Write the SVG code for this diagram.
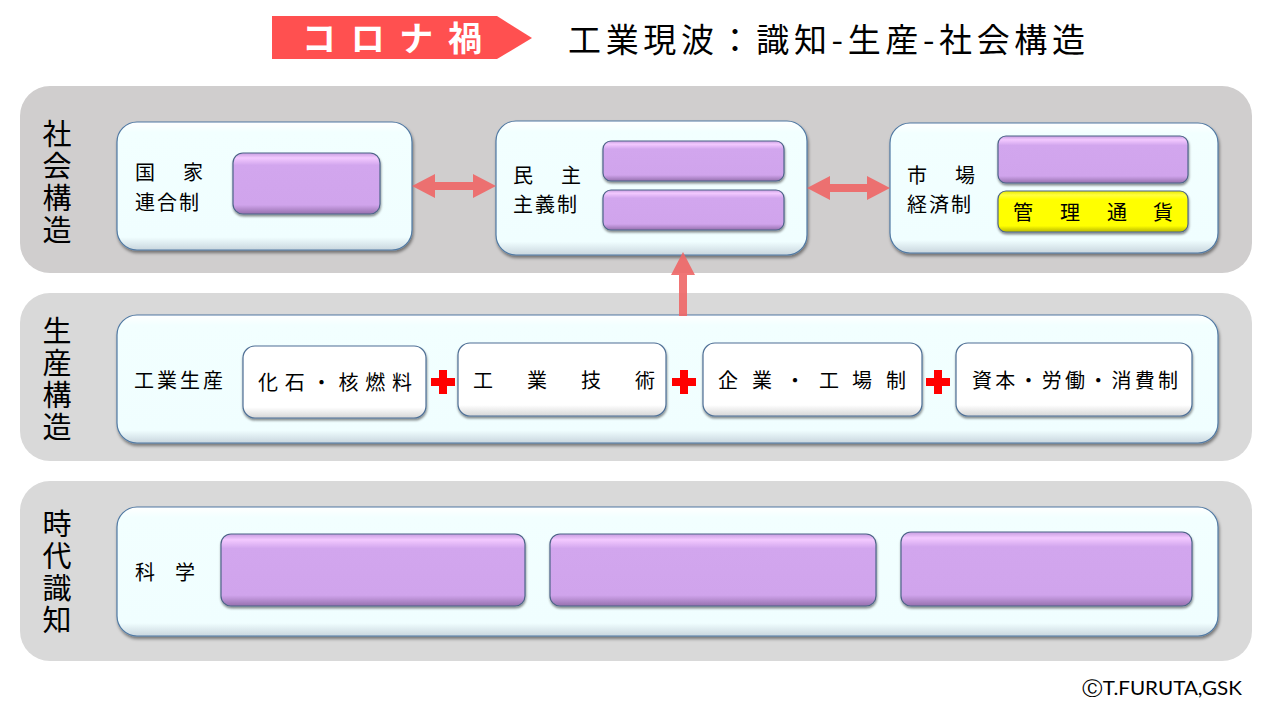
<svg xmlns="http://www.w3.org/2000/svg" width="1280" height="720" viewBox="0 0 1280 720">
<defs>
<style>
.jp{font-family:"Noto Sans CJK JP","Noto Sans CJK SC",sans-serif;fill:#000;}
.lbl{font-size:20px;}
.vlbl{font-size:29px;writing-mode:vertical-rl;letter-spacing:3px;}
.band1{fill:#d0cece;}
.band2{fill:#d9d9d9;}
.box{fill:url(#gCyan);stroke:#5079a3;stroke-width:1.2;filter:url(#sh);}
.pur{fill:url(#gPur);stroke:#4d6488;stroke-width:1.2;filter:url(#sh2);}
.yel{fill:url(#gYel);stroke:#4d6488;stroke-width:1.2;filter:url(#sh2);}
.wbox{fill:url(#gWhite);stroke:#4e6f95;stroke-width:1.2;filter:url(#sh2);}
.arr{fill:#ee6666;opacity:0.9;}
.plus{fill:#ff0000;}
</style>
<filter id="sh" x="-5%" y="-10%" width="110%" height="125%">
<feDropShadow dx="1" dy="2.5" stdDeviation="1.5" flood-color="#000" flood-opacity="0.45"/>
</filter>
<filter id="sh2" x="-5%" y="-10%" width="110%" height="130%">
<feDropShadow dx="0.5" dy="2" stdDeviation="1.2" flood-color="#000" flood-opacity="0.45"/>
</filter>
<linearGradient id="gCyan" x1="0" y1="0" x2="0" y2="1">
<stop offset="0" stop-color="#ffffff"/>
<stop offset="0.08" stop-color="#f2ffff"/>
<stop offset="0.9" stop-color="#f0feff"/>
<stop offset="1" stop-color="#c9d6de"/>
</linearGradient>
<linearGradient id="gPur" x1="0" y1="0" x2="0" y2="1">
<stop offset="0" stop-color="#c79ce0"/>
<stop offset="0.08" stop-color="#f3c9ff"/>
<stop offset="0.2" stop-color="#d2a6ee"/>
<stop offset="0.85" stop-color="#d0a4ec"/>
<stop offset="1" stop-color="#9670ae"/>
</linearGradient>
<linearGradient id="gYel" x1="0" y1="0" x2="0" y2="1">
<stop offset="0" stop-color="#e8e800"/>
<stop offset="0.1" stop-color="#ffff40"/>
<stop offset="0.2" stop-color="#ffff00"/>
<stop offset="0.85" stop-color="#ffff00"/>
<stop offset="1" stop-color="#b8b800"/>
</linearGradient>
<linearGradient id="gWhite" x1="0" y1="0" x2="0" y2="1">
<stop offset="0" stop-color="#ffffff"/>
<stop offset="0.85" stop-color="#ffffff"/>
<stop offset="1" stop-color="#d6d6d6"/>
</linearGradient>
</defs>
<rect width="1280" height="720" fill="#ffffff"/>

<g id="title">
<polygon points="272,16 497,16 532,38 497,59 272,59" fill="#ff5050"/>
<text x="302" y="51" class="jp" style="font-size:34px;fill:#ffffff;font-weight:bold" textLength="180" lengthAdjust="spacing">コロナ禍</text>
<text x="568" y="52" class="jp" style="font-size:33px" textLength="517" lengthAdjust="spacing">工業現波：識知-生産-社会構造</text>
</g>

<g id="band-social">
<rect class="band1" x="20" y="86" width="1232" height="187" rx="30"/>
<text class="jp vlbl" x="57" y="119">社会構造</text>
</g>
<g id="band-production">
<rect class="band2" x="20" y="293" width="1232" height="168" rx="30"/>
<text class="jp vlbl" x="57" y="316">生産構造</text>
</g>
<g id="band-knowledge">
<rect class="band2" x="20" y="481" width="1232" height="180" rx="30"/>
<text class="jp vlbl" x="57" y="509">時代識知</text>
</g>

<g id="node-kokka">
<rect class="box" x="117" y="122" width="295" height="128" rx="20"/>
<rect class="pur" x="233" y="153" width="147" height="61" rx="10"/>
<text class="jp lbl" x="135 183" y="180">国家</text>
<text class="jp lbl" x="135" y="210" letter-spacing="2">連合制</text>
</g>

<g id="node-minshu">
<rect class="box" x="496" y="121" width="311" height="134" rx="20"/>
<rect class="pur" x="603" y="141" width="181" height="40" rx="8"/>
<rect class="pur" x="603" y="190" width="181" height="40" rx="8"/>
<text class="jp lbl" x="513 561" y="183">民主</text>
<text class="jp lbl" x="513" y="212" letter-spacing="2">主義制</text>
</g>

<g id="node-shijo">
<rect class="box" x="890" y="123" width="328" height="130" rx="20"/>
<rect class="pur" x="998" y="136" width="190" height="47" rx="8"/>
<rect class="yel" x="998" y="191" width="190" height="41" rx="8"/>
<text class="jp lbl" x="907 955" y="183">市場</text>
<text class="jp lbl" x="907" y="212" letter-spacing="2">経済制</text>
<text class="jp lbl" x="1013 1060 1107 1153" y="220">管理通貨</text>
</g>

<g id="node-kogyo">
<rect class="box" x="117" y="315" width="1101" height="128" rx="20"/>
<text class="jp lbl" x="134" y="388" letter-spacing="3">工業生産</text>
</g>
<g id="node-kaseki">
<rect class="wbox" x="243" y="346" width="183" height="72" rx="12"/>
<text class="jp lbl" x="258" y="390" textLength="154" lengthAdjust="spacing">化石・核燃料</text>
</g>
<g id="node-gijutsu">
<rect class="wbox" x="458" y="343" width="208" height="73" rx="12"/>
<text class="jp lbl" x="473 527 581 635" y="388">工業技術</text>
</g>
<g id="node-kigyo">
<rect class="wbox" x="703" y="343" width="219" height="73" rx="12"/>
<text class="jp lbl" x="718 752 785 819 852 886" y="388">企業・工場制</text>
</g>
<g id="node-shihon">
<rect class="wbox" x="956" y="343" width="236" height="73" rx="12"/>
<text class="jp lbl" x="972" y="388" textLength="206" lengthAdjust="spacing">資本・労働・消費制</text>
</g>

<g id="node-kagaku">
<rect class="box" x="117" y="507" width="1101" height="129" rx="20"/>
<rect class="pur" x="221" y="534" width="304" height="72" rx="10"/>
<rect class="pur" x="550" y="534" width="326" height="72" rx="10"/>
<rect class="pur" x="901" y="532" width="291" height="74" rx="10"/>
<text class="jp lbl" x="135 175" y="580">科学</text>
</g>

<g id="connectors">
<polygon class="arr" points="412,186 435,174 435,182 473,182 473,174 496,186 473,198 473,190 435,190 435,198"/>
<polygon class="arr" points="807,188 830,176 830,184 867,184 867,176 890,188 867,200 867,192 830,192 830,200"/>
<polygon class="arr" points="683,252 695,275 687,275 687,316 679,316 679,275 671,275"/>
<path class="plus" d="M439,370h8v8h8v8h-8v8h-8v-8h-8v-8h8z"/>
<path class="plus" d="M680,370h8v8h8v8h-8v8h-8v-8h-8v-8h8z"/>
<path class="plus" d="M934,370h8v8h8v8h-8v8h-8v-8h-8v-8h8z"/>
</g>

<text x="1082" y="695" style="font-family:Lato,'Open Sans',sans-serif;font-size:19px;fill:#000" textLength="160" lengthAdjust="spacingAndGlyphs">ⒸT.FURUTA,GSK</text>
</svg>
